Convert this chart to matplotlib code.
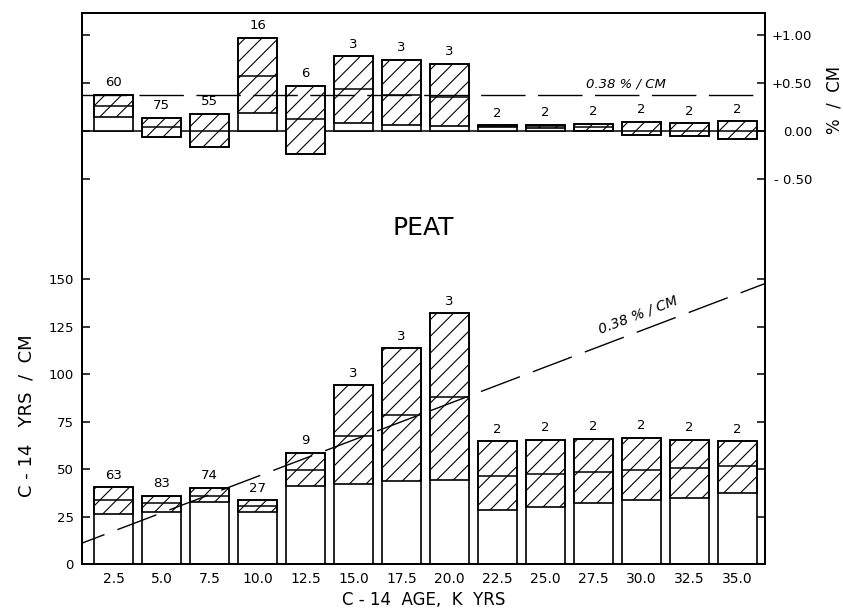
import numpy as np
import matplotlib
matplotlib.use("Agg")
import matplotlib.pyplot as plt

plt.rcParams['font.family'] = ['DejaVu Sans']
plt.rcParams['hatch.linewidth'] = 0.8

# C-14 age of each bar (k yrs)
ages = [2.5, 5.0, 7.5, 10.0, 12.5, 15.0, 17.5, 20.0, 22.5, 25.0, 27.5, 30.0, 32.5, 35.0]

# upper panel: % / cm (low, mean, high) and sample counts
pct_low = [0.15, -0.06, -0.17, 0.19, -0.24, 0.08, 0.06, 0.05, 0.04, 0.035, 0.0, -0.045, -0.05, -0.08]
pct_mid = [0.26, 0.04, 0.00, 0.57, 0.13, 0.44, 0.38, 0.36, 0.05, 0.05, 0.04, 0.0, 0.0, 0.0]
pct_high = [0.38, 0.14, 0.18, 0.97, 0.47, 0.78, 0.74, 0.70, 0.06, 0.065, 0.076, 0.097, 0.08, 0.10]
pct_n = [60, 75, 55, 16, 6, 3, 3, 3, 2, 2, 2, 2, 2, 2]
pct_ref = 0.38

# lower panel: C-14 yrs / cm (low, mean, high) and sample counts
rate_low = [26.5, 27.5, 32.5, 27.5, 41, 42, 43.5, 44, 28.5, 30, 32, 33.5, 35, 37.5]
rate_mid = [33.5, 32, 36, 30.5, 49.5, 67.5, 78.5, 88, 46.5, 47.5, 48.5, 49.5, 50.5, 51.5]
rate_high = [40.5, 36, 40, 33.5, 58.5, 94, 113.5, 132, 64.5, 65.5, 66, 66.5, 65.5, 64.5]
rate_n = [63, 83, 74, 27, 9, 3, 3, 3, 2, 2, 2, 2, 2, 2]

# 0.38 %/cm reference line in the lower panel
trend_age = [0.0, 37.0]
trend_rate = [7.7, 149.8]

x_ticks = ["2.5", "5.0", "7.5", "10.0", "12.5", "15.0", "17.5", "20.0",
           "22.5", "25.0", "27.5", "30.0", "32.5", "35.0"]
left_ticks = [0, 25, 50, 75, 100, 125, 150]
right_ticks = [-0.5, 0.0, 0.5, 1.0]
right_labels = ["- 0.50", "0.00", "+0.50", "+1.00"]

width = 2.0


def draw_bars(axis, low, mid, high, counts):
    x = np.array(ages)
    low = np.array(low)
    mid = np.array(mid)
    high = np.array(high)
    base = np.minimum(low, 0)
    axis.bar(x, high - base, bottom=base, width=width, facecolor='white',
             edgecolor='black', linewidth=1.2, zorder=2)
    axis.bar(x, high - low, bottom=low, width=width, fill=False, hatch='//',
             edgecolor='black', linewidth=1.2, zorder=3)
    axis.hlines(mid, x - width / 2, x + width / 2, color='black', linewidth=1.1, zorder=4)
    for xi, hi, n in zip(x, high, counts):
        axis.annotate(str(n), (xi, hi), xytext=(0, 4), textcoords='offset points',
                      ha='center', va='bottom', fontsize=9.5)


fig = plt.figure(figsize=(8.43, 6.13), dpi=100)
ax = fig.add_axes([0.0973, 0.0799, 0.8102, 0.8989])
ax2 = ax.twinx()

ax.set_xlim(0.86, 36.43)
ax.set_ylim(0, 290)
ax2.set_ylim(-4.51, 1.23)

# lower panel
draw_bars(ax, rate_low, rate_mid, rate_high, rate_n)
ax.plot(trend_age, trend_rate, color='black', linewidth=1.0, dashes=(30, 10), zorder=5)
ax.text(29.8, 131, "0.38 % / CM", rotation=21, rotation_mode='anchor', ha='center',
        va='center', fontsize=10, style='italic')

# upper panel
draw_bars(ax2, pct_low, pct_mid, pct_high, pct_n)
ax2.axhline(0, color='black', linewidth=1.1, zorder=1)
ax2.axhline(pct_ref, color='black', linewidth=1.0, dashes=(32, 9), zorder=5)
ax2.text(29.2, 0.49, "0.38 % / CM", ha='center', va='center', fontsize=9.5, style='italic')

ax.text(0.5, 0.61, "PEAT", transform=ax.transAxes, ha='center', va='center',
        fontsize=18)

# axes styling
ax.set_xticks(ages)
ax.set_xticklabels(x_ticks, fontsize=10)
ax.tick_params(axis='x', length=0, pad=6)
ax.set_yticks(left_ticks)
ax.set_yticklabels([str(t) for t in left_ticks], fontsize=9.5)
ax.tick_params(axis='y', direction='in', length=6, width=1.1, right=True, pad=6)

ax2.set_yticks(right_ticks)
ax2.set_yticklabels(right_labels, fontsize=9.5)
ax2.tick_params(axis='y', direction='in', length=6, width=1.1, left=True,
                labelleft=False, pad=34)
for lab in ax2.get_yticklabels():
    lab.set_horizontalalignment('right')

for a in (ax, ax2):
    for s in a.spines.values():
        s.set_linewidth(1.4)

ax.set_xlabel("C - 14  AGE,  K  YRS", fontsize=12, labelpad=3)
ax.set_ylabel("C - 14   YRS  /  CM", fontsize=13)
ax.yaxis.set_label_coords(-0.068, 0.27)
ax2.set_ylabel("%  /  CM", fontsize=12, rotation=90)
ax2.yaxis.set_label_coords(1.088, 0.842)

fig.savefig("out.png", dpi=100)
